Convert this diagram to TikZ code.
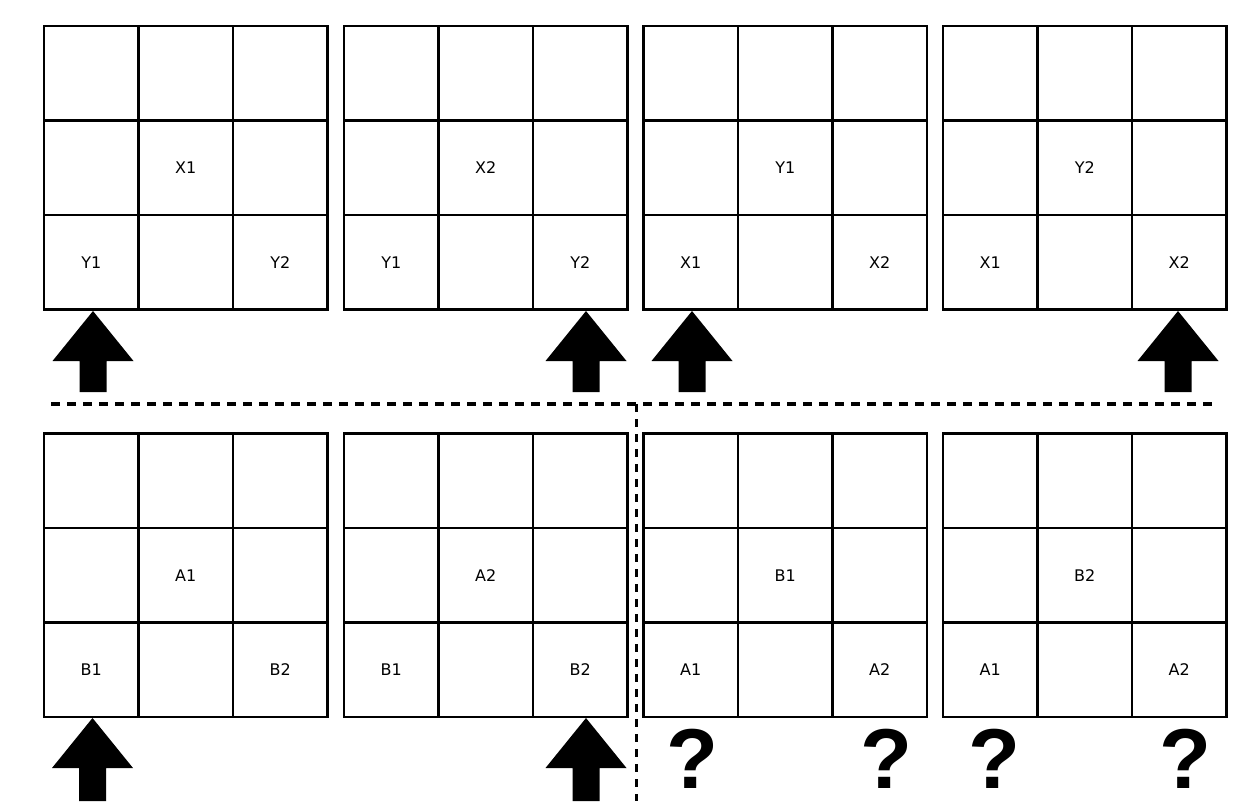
\documentclass[tikz,border=0pt]{standalone}
\usepackage{fontspec}
\setmainfont{DejaVu Sans}
\newfontfamily\qfont{Liberation Sans}
\newcommand{\mygrid}[6]{%
  \draw[gridline] (#2,#3) rectangle ++(283.5,283.5);
  \draw[gridline] (#2+94.5,#3) -- ++(0,283.5);
  \draw[gridline] (#2+189,#3) -- ++(0,283.5);
  \draw[gridline] (#2,#3+94.5) -- ++(283.5,0);
  \draw[gridline] (#2,#3+189) -- ++(283.5,0);
  \node[lbl] (#1c) at (#2+141.75,#3+141.75) {#4};
  \node[lbl] (#1l) at (#2+47.25,#3+236.25) {#5};
  \node[lbl] (#1r) at (#2+236.25,#3+236.25) {#6};
}
\newcommand{\uparr}[3]{%
  \fill[black] (#1,#2) -- (#1+40.5,#2+50) -- (#1+13.5,#2+50) -- (#1+13.5,#3)
    -- (#1-13.5,#3) -- (#1-13.5,#2+50) -- (#1-40.5,#2+50) -- cycle;
}
\begin{document}
\begin{tikzpicture}[x=1pt,y=-1pt,
  gridline/.style={line width=2.6pt, draw=black},
  lbl/.style={font=\fontsize{16}{19}\selectfont, inner sep=0pt},
  qm/.style={font=\qfont\bfseries\fontsize{85}{90}\selectfont, inner sep=0pt},
  sepline/.style={line width=4pt, dash pattern=on 9pt off 7pt},
  vsepline/.style={line width=3pt, dash pattern=on 8pt off 7pt}]
\useasboundingbox[fill=white] (0,0) rectangle (1240,801);
% top row
\mygrid{g1}{44}{26}{X1}{Y1}{Y2}
\mygrid{g2}{344}{26}{X2}{Y1}{Y2}
\mygrid{g3}{643.5}{26}{Y1}{X1}{X2}
\mygrid{g4}{943}{26}{Y2}{X1}{X2}
% bottom row
\mygrid{g5}{44}{433.5}{A1}{B1}{B2}
\mygrid{g6}{344}{433.5}{A2}{B1}{B2}
\mygrid{g7}{643.5}{433.5}{B1}{A1}{A2}
\mygrid{g8}{943}{433.5}{B2}{A1}{A2}
% arrows
\uparr{93}{311}{392}
\uparr{586}{311}{392}
\uparr{692}{311}{392}
\uparr{1178}{311}{392}
\uparr{92.5}{718}{801}
\uparr{586}{718}{801}
% separators
\coordinate (hl) at (51,404);
\coordinate (hr) at (1218,404);
\coordinate (vt) at (636,404);
\coordinate (vb) at (636,801);
\draw[sepline] (hl) -- (hr);
\draw[vsepline] (vt) -- (vb);
% question marks
\node[qm] (q1) at (692,759) {?};
\node[qm] (q2) at (886,759) {?};
\node[qm] (q3) at (994,759) {?};
\node[qm] (q4) at (1185,759) {?};
\end{tikzpicture}
\end{document}
